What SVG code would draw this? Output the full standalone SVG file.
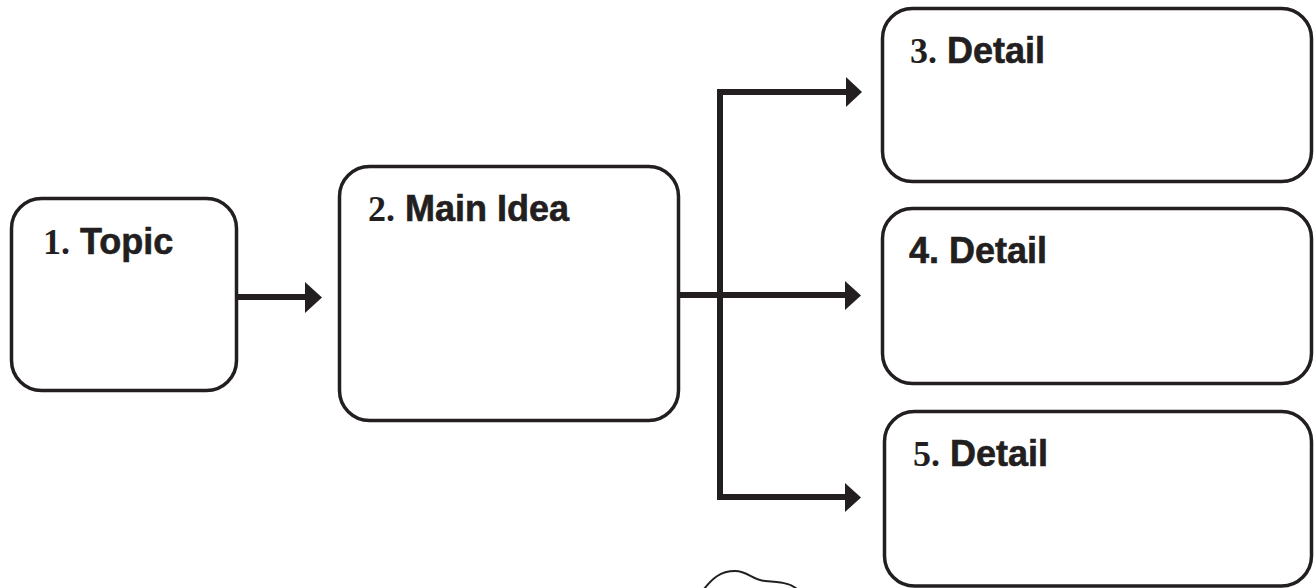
<svg xmlns="http://www.w3.org/2000/svg" width="1316" height="588" viewBox="0 0 1316 588">
  <style>
    .box { fill: #ffffff; stroke: #231f20; stroke-width: 3.5; }
    .lbl { font-family: "Liberation Sans", Arial, sans-serif; font-weight: bold; font-size: 36px; fill: #231f20; stroke: #231f20; stroke-width: 0.6; }
    .num { font-family: "Liberation Serif", "Times New Roman", serif; font-weight: bold; font-size: 36px; stroke-width: 0; }
    .conn { fill: none; stroke: #231f20; stroke-width: 6; stroke-linejoin: miter; }
    .head { fill: #231f20; }
  </style>
  <rect width="1316" height="588" fill="#ffffff"/>
  <g id="connectors">
    <path class="conn" d="M238,297 H307"/>
    <polygon class="head" points="305,282 322,297.5 305,313"/>
    <path class="conn" d="M680,295 H847"/>
    <path class="conn" d="M848,92 H720 V497 H848"/>
    <polygon class="head" points="846,77 862,92 846,107"/>
    <polygon class="head" points="845,281 861,295.5 845,310"/>
    <polygon class="head" points="845,483 861,497.5 845,512"/>
  </g>
  <g id="topic">
    <rect class="box" x="11.5" y="198.5" width="225" height="192" rx="30"/>
    <text class="lbl" x="43" y="254"><tspan class="num">1.</tspan> Topic</text>
  </g>
  <g id="main-idea">
    <rect class="box" x="339.5" y="166.5" width="339" height="254" rx="30"/>
    <text class="lbl" x="368" y="221"><tspan class="num">2.</tspan> Main Idea</text>
  </g>
  <g id="detail-3">
    <rect class="box" x="882.5" y="8.5" width="429" height="173" rx="30"/>
    <text class="lbl" x="910" y="63"><tspan class="num">3.</tspan> Detail</text>
  </g>
  <g id="detail-4">
    <rect class="box" x="882.5" y="208.5" width="429" height="175" rx="30"/>
    <text class="lbl" x="909" y="263">4. Detail</text>
  </g>
  <g id="detail-5">
    <rect class="box" x="884.5" y="411.5" width="427" height="174.5" rx="30"/>
    <text class="lbl" x="913" y="466"><tspan class="num">5.</tspan> Detail</text>
  </g>
  <path d="M704,589 C712,579 720,571 735,571 C748,571 752,580 765,581 C780,582 790,583 797,589" fill="none" stroke="#231f20" stroke-width="2"/>
</svg>
